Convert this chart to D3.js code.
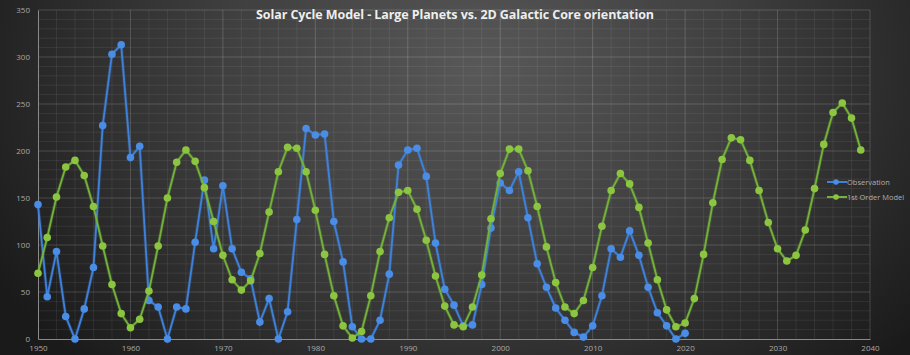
<!DOCTYPE html>
<html>
<head>
<meta charset="utf-8">
<script src="https://cdn.jsdelivr.net/npm/d3@7"></script>
<style>
html,body{margin:0;padding:0;background:#1e1e1e;}
svg{display:block;}
</style>
</head>
<body>
<svg id="chart" width="910" height="355"></svg>
<script>
const title = "Solar Cycle Model - Large Planets vs. 2D Galactic Core orientation";
const seriesNames = ["Observation", "1st Order Model"];
const obsStartYear = 1950;
const observation = [143,45,93,24,0,32,76,227,303,313,193,205,41,34,0,34,32,103,169,96,
  163,96,71,64,18,43,0,29,127,224,217,218,125,82,13,0,0,20,69,185,
  201,203,173,102,53,36,14,15,58,118,166,158,178,129,80,55,33,20,7,2,
  14,46,96,87,115,89,55,28,14,0,6];
const modelStartYear = 1950;
const model = [70,108,151,183,190,174,141,99,58,27,12,21,51,99,150,188,201,189,161,125,
  89,63,52,62,91,135,178,204,203,178,137,90,46,14,1,8,46,93,129,156,
  158,138,105,67,35,15,13,34,68,128,176,202,202,179,141,98,60,34,27,41,
  76,120,158,176,165,140,102,63,31,13,17,43,90,145,191,214,212,190,158,124,
  96,83,89,116,160,207,241,251,235,201];
const yTicks = [0,50,100,150,200,250,300,350];
const xTicks = [1950,1960,1970,1980,1990,2000,2010,2020,2030,2040];

const svg = d3.select("#chart");
const W = 910, H = 355;
const defs = svg.append("defs");
const rg = defs.append("radialGradient").attr("id","bg")
  .attr("gradientUnits","userSpaceOnUse")
  .attr("cx",480).attr("cy",70).attr("r",560)
  .attr("gradientTransform","translate(480,70) scale(1,0.75) translate(-480,-70)");
rg.append("stop").attr("offset","0").attr("stop-color","#585858");
rg.append("stop").attr("offset","0.45").attr("stop-color","#404040");
rg.append("stop").attr("offset","1").attr("stop-color","#1a1a1a");
svg.append("rect").attr("width",W).attr("height",H).attr("fill","url(#bg)");

const x = d3.scaleLinear().domain([1950,2040]).range([38,870]);
const y = d3.scaleLinear().domain([0,350]).range([339,10]);

const grid = svg.append("g");
// minor grid
grid.selectAll(".mh").data(d3.range(10,350,10).filter(v=>v%50)).join("line")
  .attr("x1",x(1950)).attr("x2",x(2040)).attr("y1",d=>y(d)).attr("y2",d=>y(d))
  .attr("stroke","rgba(255,255,255,0.07)").attr("stroke-width",1);
grid.selectAll(".mv").data(d3.range(1952,2040,2).filter(v=>v%10)).join("line")
  .attr("x1",d=>x(d)).attr("x2",d=>x(d)).attr("y1",y(0)).attr("y2",y(350))
  .attr("stroke","rgba(255,255,255,0.07)").attr("stroke-width",1);
// major grid
grid.selectAll(".Mh").data(yTicks.filter(v=>v>0)).join("line")
  .attr("x1",x(1950)).attr("x2",x(2040)).attr("y1",d=>y(d)).attr("y2",d=>y(d))
  .attr("stroke","rgba(255,255,255,0.17)").attr("stroke-width",1);
grid.selectAll(".Mv").data(xTicks.filter(v=>v>1950)).join("line")
  .attr("x1",d=>x(d)).attr("x2",d=>x(d)).attr("y1",y(0)).attr("y2",y(350))
  .attr("stroke","rgba(255,255,255,0.17)").attr("stroke-width",1);

// axes
const yAxis = d3.axisLeft(y).tickValues(yTicks).tickSize(0).tickPadding(8);
const gy = svg.append("g").attr("transform",`translate(${x(1950)},0)`).call(yAxis);
const xAxis = d3.axisBottom(x).tickValues(xTicks).tickSize(0).tickPadding(6).tickFormat(d3.format("d"));
const gx = svg.append("g").attr("transform",`translate(0,${y(0)})`).call(xAxis);
[gx,gy].forEach(g=>{
  g.select(".domain").attr("stroke","#8a8a8a").attr("stroke-width",1);
  g.selectAll("text").attr("fill","#a8a8a8").style("font-family","'Open Sans',sans-serif").style("font-size","8px");
});
gy.selectAll("text").attr("dy","0.3em");

// series
const obsData = observation.map((v,i)=>({yr:obsStartYear+i,v}));
const modData = model.map((v,i)=>({yr:modelStartYear+i,v}));
const line = d3.line().x(d=>x(d.yr)).y(d=>y(d.v));
const colors = {obs:{line:"#3f82dc",dot:"#4a8de6"}, mod:{line:"#74b33a",dot:"#8cc640"}};

function drawSeries(data,c){
  const g = svg.append("g");
  g.append("path").datum(data).attr("d",line).attr("fill","none")
    .attr("stroke",c.line).attr("stroke-opacity",0.25).attr("stroke-width",3.5);
  g.append("path").datum(data).attr("d",line).attr("fill","none")
    .attr("stroke",c.line).attr("stroke-width",1.8);
  g.selectAll("circle").data(data).join("circle")
    .attr("cx",d=>x(d.yr)).attr("cy",d=>y(d.v)).attr("r",3.8)
    .attr("fill",c.dot);
}
drawSeries(obsData,colors.obs);
drawSeries(modData,colors.mod);

// legend
const leg = svg.append("g");
const legItems = [{name:seriesNames[0],c:colors.obs,yy:182},{name:seriesNames[1],c:colors.mod,yy:197}];
legItems.forEach(it=>{
  leg.append("line").attr("x1",827).attr("x2",847).attr("y1",it.yy).attr("y2",it.yy)
    .attr("stroke",it.c.line).attr("stroke-width",2);
  leg.append("circle").attr("cx",836).attr("cy",it.yy).attr("r",2.8).attr("fill",it.c.dot);
  leg.append("text").attr("x",847).attr("y",it.yy+3).text(it.name)
    .attr("fill","#b0b0b0").style("font-family","'Open Sans',sans-serif").style("font-size","7.5px");
});

// title
svg.append("text").attr("x",256).attr("y",19).text(title)
  .attr("textLength",398).attr("lengthAdjust","spacing")
  .attr("fill","#eeeeee").style("font-family","'Open Sans',sans-serif")
  .style("font-size","12.5px").style("font-weight","700");
</script>
</body>
</html>
